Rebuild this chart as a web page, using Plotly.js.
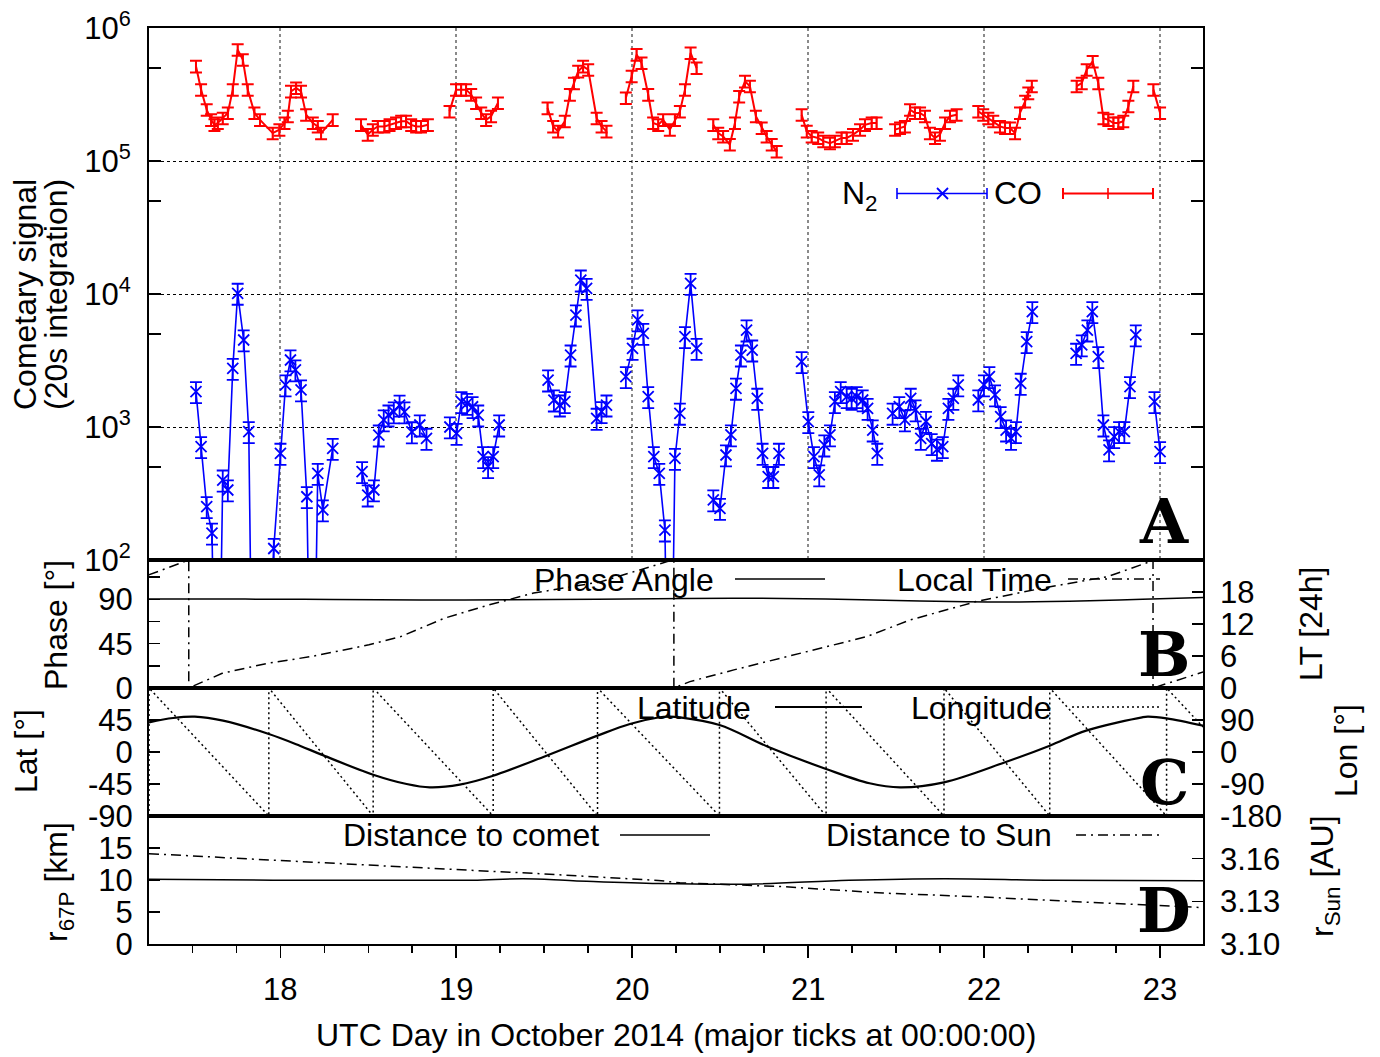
<!DOCTYPE html>
<html><head><meta charset="utf-8">
<script src="https://cdn.plot.ly/plotly-3.0.1.min.js"></script>
<style>html,body{margin:0;padding:0;background:#fff}</style>
</head><body><div id="chart" style="width:1380px;height:1057px"></div>
<script>
// ---------------- DATA ----------------
// Panel A: cometary signal (null = data gap)
const coDay = [17.521,17.550,17.582,17.607,17.626,17.645,17.673,17.702,17.730,17.758,17.787,17.815,17.853,17.885,17.957,17.995,18.024,18.043,18.061,18.090,18.118,18.147,18.185,18.213,18.232,18.298,null,
 18.459,18.497,18.526,18.554,18.592,18.621,18.658,18.687,18.715,18.744,18.772,18.800,18.839,null,
 18.962,18.999,19.028,19.056,19.085,19.113,19.142,19.170,19.198,19.237,null,
 19.519,19.551,19.579,19.617,19.646,19.669,19.693,19.721,19.750,19.798,19.826,19.854,null,
 19.964,19.997,20.025,20.053,20.091,20.119,20.148,20.176,20.214,20.243,20.271,20.300,20.332,20.366,null,
 20.461,20.489,20.517,20.555,20.584,20.608,20.641,20.669,20.703,20.736,20.764,20.793,20.821,null,
 20.963,20.992,21.020,21.057,21.086,21.124,21.152,21.190,21.219,21.255,21.295,21.323,21.361,21.389,null,
 21.494,21.522,21.550,21.579,21.607,21.636,21.664,21.692,21.721,21.749,21.778,21.806,21.844,null,
 21.967,21.995,22.024,22.052,22.090,22.119,22.147,22.176,22.204,22.233,22.251,22.271,null,
 22.526,22.555,22.583,22.617,22.649,22.678,22.706,22.735,22.763,22.791,22.820,22.848,null,
 22.962,23.000];
const coVal = [515000,344000,243000,204000,187000,193000,210000,230000,344000,687000,578000,344000,230000,204000,162000,172000,193000,217000,334000,354000,334000,223000,193000,182000,162000,204000,null,
 187000,158000,172000,182000,182000,187000,193000,199000,199000,187000,182000,182000,187000,null,
 236000,344000,344000,344000,316000,273000,230000,204000,217000,273000,null,
 250000,182000,167000,199000,316000,385000,472000,515000,486000,210000,182000,167000,null,
 298000,434000,631000,546000,316000,193000,187000,204000,172000,204000,236000,344000,649000,500000,null,
 187000,162000,153000,133000,193000,306000,397000,365000,217000,177000,153000,133000,118000,null,
 223000,167000,153000,149000,141000,136000,141000,149000,149000,158000,172000,187000,193000,193000,null,
 172000,177000,182000,243000,230000,230000,217000,162000,149000,158000,193000,217000,223000,null,
 236000,223000,210000,199000,182000,177000,177000,162000,230000,281000,324000,365000,null,
 365000,385000,486000,561000,385000,210000,204000,193000,193000,199000,258000,365000,null,
 344000,230000];
const n2Day = [17.521,17.550,17.582,17.612,17.642,17.673,17.702,17.730,17.758,17.792,17.821,17.849,17.883,17.963,18.001,18.030,18.058,18.086,18.118,18.151,18.182,18.213,18.242,18.298,null,
 18.465,18.497,18.532,18.560,18.588,18.615,18.645,18.678,18.706,18.748,18.793,18.831,null,
 18.964,19.002,19.030,19.062,19.093,19.125,19.153,19.181,19.210,19.244,null,
 19.522,19.555,19.589,19.617,19.650,19.680,19.708,19.741,19.798,19.826,19.854,null,
 19.964,20.002,20.031,20.063,20.091,20.123,20.154,20.186,20.214,20.243,20.271,20.300,20.332,20.366,null,
 20.461,20.499,20.533,20.561,20.590,20.618,20.650,20.682,20.711,20.741,20.773,20.802,20.834,null,
 20.963,21.001,21.033,21.063,21.092,21.124,21.152,21.185,21.219,21.247,21.276,21.310,21.338,21.367,21.393,null,
 21.480,21.518,21.550,21.583,21.611,21.640,21.670,21.702,21.732,21.765,21.797,21.825,21.853,null,
 21.967,21.999,22.030,22.062,22.094,22.125,22.153,22.181,22.208,22.242,22.274,null,
 22.523,22.555,22.587,22.615,22.649,22.678,22.710,22.739,22.767,22.797,22.829,22.862,null,
 22.968,23.000];
const n2Val = [1845,711,252,159,1,399,336,2760,10120,4510,922,1,1,122,634,2070,3190,2690,1900,299,1,448,238,691,null,
 461,308,336,870,1130,1230,1300,1460,1300,920,1035,822,null,
 1000,896,1550,1505,1420,1230,598,503,598,1035,null,
 2255,1595,1462,1550,3475,6950,12730,11030,1162,1303,1462,null,
 2390,3905,6380,5060,1690,598,448,168,1,580,1268,4780,12020,3900,null,
 283,244,616,871,1955,3475,5360,3790,1643,634,424,424,634,null,
 3100,1097,598,436,732,871,1550,1845,1690,1643,1690,1596,1380,949,634,null,
 1268,1422,1130,1643,1343,822,1100,750,680,711,1380,1643,2070,null,
 1596,2070,2390,1742,1196,949,822,922,2130,4385,7360,null,
 3580,4140,5360,7360,3380,1035,672,845,922,922,2010,4920,null,
 1550,653];
const n2ErrPct = 18;
const coErrPct = 10;

// Panel B
const phaseDay = [17.254,17.8,18.3,18.8,19.3,19.8,20.3,20.7,21.1,21.5,21.9,22.2,22.6,22.9,23.245];
const phaseVal = [90.5,90.3,89.9,89.5,89.6,90.2,91.0,91.2,90.3,88.8,87.6,87.4,88.6,90.2,91.8];
const ltDay = [17.252,17.480,17.480,17.670,17.923,18.176,18.504,18.682,18.934,19.187,19.440,19.819,20.199,20.237,20.237,20.328,20.578,20.953,21.329,21.579,21.954,22.329,22.704,22.943,22.960,22.960,23.245];
const ltVal = [21.2,24,0,2.75,4.6,5.9,8.1,9.6,13.1,15.6,17.8,19.9,23.7,24,0,1.2,3.4,6.5,9.6,12.75,16.2,18.7,20.9,23.7,24,0,3.0];

// Panel C
const latDay = [17.254,17.391,17.514,17.675,17.935,18.111,18.234,18.528,18.718,18.850,19.020,19.210,19.513,19.803,19.987,20.148,20.210,20.271,20.496,20.771,21.102,21.349,21.522,21.772,22.119,22.373,22.580,22.898,22.930,23.037,23.245];
const latVal = [41.7,47.8,49.7,44.1,25.3,8.9,-3.7,-31.9,-45,-49.7,-45.9,-33.3,-5.2,23,39.4,48.5,49.7,48.8,38,7.5,-23.9,-44,-49.7,-42.7,-14.5,8.9,30,48.8,49.7,47.4,37];
const lonDay = [17.254,17.254,17.935,17.935,18.528,18.528,19.210,19.210,19.803,19.803,20.496,20.496,21.102,21.102,21.772,21.772,22.373,22.373,23.037,23.037,23.245];
const lonVal = [-180,180,-180,180,-180,180,-180,180,-180,180,-180,180,-180,180,-180,180,-180,180,-180,180,70];

// Panel D
const distDay = [17.254,17.959,18.717,19.096,19.380,19.665,20.148,20.656,21.234,21.772,22.388,23.245];
const distVal = [10.1,9.97,9.95,9.97,10.2,9.9,9.45,9.35,9.95,10.2,9.97,9.87];
const sunDay = [17.254,17.959,18.717,19.475,20.148,20.271,20.849,21.426,22.003,22.580,22.966,23.245];
const sunVal = [3.1635,3.1588,3.1541,3.1494,3.1447,3.1430,3.1404,3.1358,3.1330,3.1294,3.1270,3.1256];

// Tick labels
const xTitle = 'UTC Day in October 2014 (major ticks at 00:00:00)';
const logTicks = [1e2,1e3,1e4,1e5,1e6];
const logTickText = ['10<sup>2</sup>','10<sup>3</sup>','10<sup>4</sup>','10<sup>5</sup>','10<sup>6</sup>'];
const phaseTicks = [0,45,90];
const ltTicks = [0,6,12,18];
const latTicks = [-90,-45,0,45];
const latTickText = ['-90','-45','0','45'];
const lonTicks = [-180,-90,0,90];
const lonTickText = ['-180','-90','0','90'];
const distTicks = [0,5,10,15];
const sunTicks = [3.10,3.13,3.16];
const sunTickText = ['3.10','3.13','3.16'];

// ---------------- LAYOUT HELPERS ----------------
const PX0=149, PX1=1203, PY0=28, PY1=944;
const fx = p => (p-PX0)/(PX1-PX0);
const fy = p => (PY1-p)/(PY1-PY0);
const F = 'Liberation Sans, Arial, Helvetica, sans-serif';
const FS = 31;   // tick labels
const TS = 32;   // texts
const xr = [17.254, 23.244];
const domA=[fy(560),1], domB=[fy(688),fy(560)], domC=[fy(816),fy(688)], domD=[0,fy(816)];
const DASHDOT = '10px,5px,2px,5px';
const DOT = '2px,3px';

const base = {showline:true, linecolor:'#000', linewidth:2, mirror:true, zeroline:false, showgrid:false,
  ticks:'inside', ticklen:11, tickwidth:1.5, tickcolor:'#000', tickfont:{family:F,size:FS,color:'#000'}};

const traces = [
 {x:coDay, y:coVal, xaxis:'x', yaxis:'y', mode:'lines+markers', connectgaps:false,
  line:{color:'#ff0000', width:2}, marker:{symbol:'line-ns', size:8, color:'#ff0000', line:{width:1.5,color:'#ff0000'}},
  error_y:{type:'percent', value:coErrPct, color:'#ff0000', thickness:2, width:6}, showlegend:false},
 {x:n2Day, y:n2Val, xaxis:'x', yaxis:'y', mode:'lines+markers', connectgaps:false,
  line:{color:'#0000ff', width:1.6}, marker:{symbol:'x-thin', size:11, color:'#0000ff', line:{width:1.8,color:'#0000ff'}},
  error_y:{type:'percent', value:n2ErrPct, color:'#0000ff', thickness:1.8, width:6}, showlegend:false},
 {x:phaseDay, y:phaseVal, xaxis:'x2', yaxis:'y2', mode:'lines', line:{color:'#000', width:1.5, shape:'spline'}, showlegend:false},
 {x:ltDay, y:ltVal, xaxis:'x2', yaxis:'y3', mode:'lines', line:{color:'#000', width:1.5, dash:DASHDOT}, showlegend:false},
 {x:latDay, y:latVal, xaxis:'x3', yaxis:'y4', mode:'lines', line:{color:'#000', width:2.2, shape:'spline'}, showlegend:false},
 {x:lonDay, y:lonVal, xaxis:'x3', yaxis:'y5', mode:'lines', line:{color:'#000', width:1.5, dash:DOT}, showlegend:false},
 {x:distDay, y:distVal, xaxis:'x4', yaxis:'y6', mode:'lines', line:{color:'#000', width:1.5, shape:'spline'}, showlegend:false},
 {x:sunDay, y:sunVal, xaxis:'x4', yaxis:'y7', mode:'lines', line:{color:'#000', width:1.5, dash:DASHDOT}, showlegend:false}
];

// legend / labels
const txt = (t, x, y, o={}) => Object.assign({text:t, x:fx(x), y:fy(y), xref:'paper', yref:'paper', showarrow:false,
  xanchor:'right', yanchor:'middle', font:{family:F, size:TS, color:'#000'}}, o);
const annotations = [
 txt('N<sub>2</sub>', 880, 196),
 txt('CO', 1044, 193),
 txt('Phase Angle', 716, 580),
 txt('Local Time', 1054, 580),
 txt('Latitude', 753, 708),
 txt('Longitude', 1054, 708),
 txt('Distance to comet', 601, 835),
 txt('Distance to Sun', 1054, 835),
 // panel letters
 ...[['A',521],['B',654],['C',782],['D',910]].map(([l,y]) => txt('<b>'+l+'</b>', 1164, y,
   {xanchor:'center', font:{family:'DejaVu Serif, serif', size:62, color:'#000'}})),
 // axis titles
 txt('Cometary signal', 25, 295, {xanchor:'center', textangle:-90}),
 txt('(20s integration)', 56, 295, {xanchor:'center', textangle:-90}),
 txt('Phase [°]', 56, 625, {xanchor:'center', textangle:-90}),
 txt('Lat [°]', 26, 751, {xanchor:'center', textangle:-90}),
 txt('r<sub>67P</sub> [km]', 58, 882, {xanchor:'center', textangle:-90}),
 txt('LT [24h]', 1311, 624, {xanchor:'center', textangle:-90}),
 txt('Lon [°]', 1346, 751, {xanchor:'center', textangle:-90}),
 txt('r<sub>Sun</sub> [AU]', 1324, 876, {xanchor:'center', textangle:-90}),
 txt(xTitle, 676, 1035, {xanchor:'center'})
];

const ln = (x0,y0,x1,y1,color,width,dash) => ({type:'line', xref:'paper', yref:'paper', x0:fx(x0), y0:fy(y0), x1:fx(x1), y1:fy(y1),
  line:{color:color, width:width, dash:dash||'solid'}});
const shapes = [
 // N2 key
 ln(897,193.5,987,193.5,'#0000ff',1.6), ln(897,188,897,199,'#0000ff',1.6), ln(987,188,987,199,'#0000ff',1.6),
 ln(937,188,948,199,'#0000ff',1.8), ln(937,199,948,188,'#0000ff',1.8),
 // CO key
 ln(1063,193.5,1153,193.5,'#ff0000',2), ln(1063,188,1063,199,'#ff0000',2), ln(1153,188,1153,199,'#ff0000',2), ln(1108,188,1108,199,'#ff0000',1.6),
 // panel keys
 ln(735,579,825,579,'#000',1.5),
 ln(1068,579,1160,579,'#000',1.5,DASHDOT),
 ln(775,707,862,707,'#000',2.2),
 ln(1072,707,1162,707,'#000',1.5,DOT),
 ln(620,835,710,835,'#000',1.5),
 ln(1076,835,1164,835,'#000',1.5,DASHDOT)
];

const layout = {
 width:1380, height:1057, paper_bgcolor:'#fff', plot_bgcolor:'#fff',
 margin:{l:PX0, r:1380-PX1, t:PY0, b:1057-PY1, pad:0},
 showlegend:false, font:{family:F, size:FS, color:'#000'},
 xaxis: {...base, anchor:'y', range:xr, showticklabels:false, ticks:'', showgrid:true, gridcolor:'#8a8a8a', griddash:'dot', gridwidth:1.6, tick0:18, dtick:1},
 xaxis2:{...base, anchor:'y2', range:xr, showticklabels:false, ticks:''},
 xaxis3:{...base, anchor:'y4', range:xr, showticklabels:false, ticks:''},
 xaxis4:{...base, anchor:'y6', range:xr, ticks:'outside', ticklen:12, tick0:18, dtick:1, ticklabelstandoff:5,
   minor:{ticks:'outside', ticklen:7, tickwidth:1.5, tick0:18, dtick:0.25, tickcolor:'#000'}},
 yaxis: {...base, type:'log', range:[2,6], domain:domA, anchor:'x', tickmode:'array', tickvals:logTicks, ticktext:logTickText,
   mirror:'allticks', ticklen:12, showgrid:true, gridcolor:'#000', griddash:'dot', gridwidth:1, ticklabelstandoff:10,
   minor:{tickmode:'array', tickvals:[5e2,5e3,5e4,5e5], ticks:'inside', ticklen:12, tickwidth:1.5, tickcolor:'#000'}},
 yaxis2:{...base, range:[0,130], domain:domB, anchor:'x2', tickmode:'array', tickvals:phaseTicks, ticklabelstandoff:8,
   minor:{tickmode:'array', tickvals:[22.5,67.5,112.5], ticks:'inside', ticklen:11, tickwidth:1.5, tickcolor:'#000'}},
 yaxis3:{...base, overlaying:'y2', side:'right', anchor:'x2', range:[0,24], tickmode:'array', tickvals:ltTicks, showline:false, ticklabelstandoff:16},
 yaxis4:{...base, range:[-90,90], domain:domC, anchor:'x3', tickmode:'array', tickvals:latTicks, ticktext:latTickText, ticklabelstandoff:8},
 yaxis5:{...base, overlaying:'y4', side:'right', anchor:'x3', range:[-180,180], tickmode:'array', tickvals:lonTicks, ticktext:lonTickText, showline:false, ticklabelstandoff:16},
 yaxis6:{...base, range:[0,20], domain:domD, anchor:'x4', tickmode:'array', tickvals:distTicks, ticklabelstandoff:8},
 yaxis7:{...base, overlaying:'y6', side:'right', anchor:'x4', range:[3.10,3.19], tickmode:'array', tickvals:sunTicks, ticktext:sunTickText, showline:false, ticklabelstandoff:16},
 annotations: annotations,
 shapes: shapes
};

Plotly.newPlot('chart', traces, layout, {displayModeBar:false, staticPlot:true});
</script></body></html>
